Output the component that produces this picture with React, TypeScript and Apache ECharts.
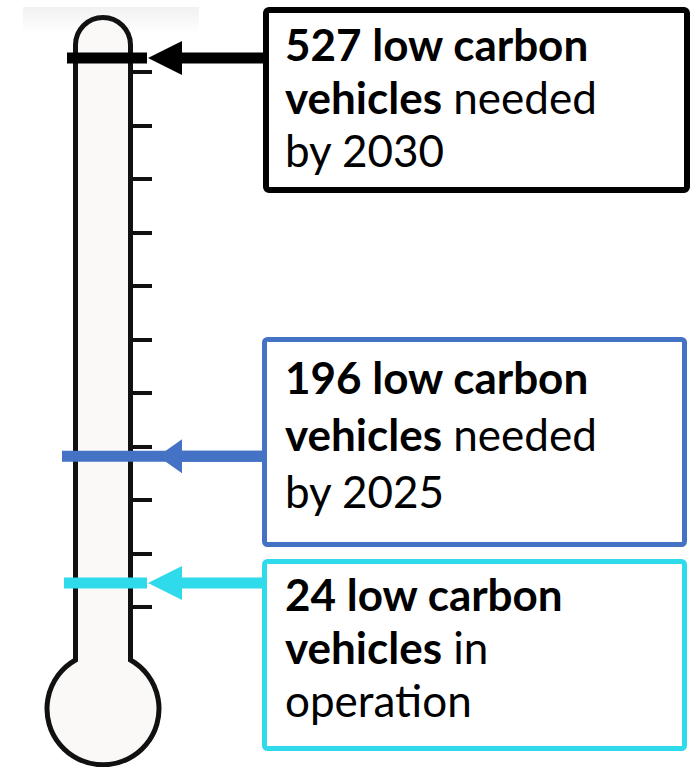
import React, { useEffect, useRef } from "react";
import * as echarts from "echarts";

// ---- data ----
const vehicleCounts = [527, 196, 24];
const captionWord = ["needed", "needed", "in"];
const captionLine = ["by 2030", "by 2025", "operation"];
// reading on the thermometer scale (gradations 0..10)
const thermoReadings = [10.26, 2.82, 0.45];
const scaleTicks = [0, 10, 1]; // min, max, interval

// ---- styles (not data) ----
const markerStyles = [
  { color: "#000000", barStart: 67, barEnd: 147, tip: 148, lw: 6, box: [266, 10, 421, 180], lh: 53, textTop: 17 },
  { color: "#4472C4", barStart: 62, barEnd: 264, tip: 158, lw: 5, box: [264.5, 339.5, 420, 205], lh: 57, textTop: 348 },
  { color: "#2FDAEB", barStart: 64, barEnd: 147, tip: 148, lw: 5, box: [264.5, 561.5, 420, 187], lh: 53, textTop: 567 },
];

const FONT = "Lato, 'Noto Sans', sans-serif";
const FS = 44;

const thermoPath =
  "M 75.5 45 A 27.5 27.5 0 0 1 130.5 45 L 130.5 660 A 56 56 0 1 1 75.5 660 Z";

let registered = false;
function ensureShape() {
  if (registered) return;
  echarts.graphic.registerShape("thermo", echarts.graphic.extendPath(thermoPath, {}));
  registered = true;
}

export default function App() {
  const ref = useRef<HTMLDivElement>(null);
  useEffect(() => {
    document.body.style.margin = "0";
    ensureShape();
    const chart = echarts.init(ref.current!, null, { renderer: "svg" });

    const graphics: any[] = [
      {
        type: "rect",
        shape: { x: 23, y: 7, width: 176, height: 26 },
        style: {
          fill: new echarts.graphic.LinearGradient(0, 0, 0, 1, [
            { offset: 0, color: "#f1f1f1" },
            { offset: 1, color: "#ffffff" },
          ]),
        },
        z: 0,
      },
      {
        type: "thermo",
        x: 0,
        y: 0,
        scaleX: 1,
        scaleY: 1,
        style: { fill: "#FAF9F8", stroke: "#111111", lineWidth: 5 },
        z: 1,
      },
    ];

    markerStyles.forEach((s, i) => {
      graphics.push({
        type: "rect",
        shape: { x: s.box[0], y: s.box[1], width: s.box[2], height: s.box[3], r: 3 },
        style: { fill: "#ffffff", stroke: s.color, lineWidth: s.lw },
        z: 10,
      });
      graphics.push({
        type: "text",
        x: 285,
        y: s.textTop,
        style: {
          text: `{b|${vehicleCounts[i]} low carbon}\n{b|vehicles} {r|${captionWord[i]}}\n{r|${captionLine[i]}}`,
          rich: {
            b: { fontFamily: FONT, fontSize: FS, fontWeight: "bold", fill: "#000", lineHeight: s.lh },
            r: { fontFamily: FONT, fontSize: FS, fontWeight: "normal", fill: "#000", lineHeight: s.lh },
          },
          fill: "#000",
          fontFamily: FONT,
          fontSize: FS,
        },
        z: 11,
      });
    });

    chart.setOption({
      animation: false,
      grid: { left: 133, right: 694 - 200, top: 72, bottom: 767 - 607 },
      xAxis: { type: "value", min: 0, max: 1, show: false },
      yAxis: {
        type: "value",
        position: "left",
        min: scaleTicks[0],
        max: scaleTicks[1],
        interval: scaleTicks[2],
        axisLine: { show: false },
        axisLabel: { show: false },
        splitLine: { show: false },
        axisTick: { show: true, inside: true, length: 19, lineStyle: { color: "#111111", width: 4 } },
        z: 3,
      },
      graphic: graphics,
      series: [
        {
          type: "custom",
          z: 5,
          clip: false,
          data: thermoReadings.map((r, i) => [0.5, r, i]),
          renderItem: (params: any, api: any) => {
            const i = api.value(2);
            const s = markerStyles[i];
            const y = api.coord([0.5, api.value(1)])[1];
            const half = 5.5;
            return {
              type: "group",
              children: [
                {
                  type: "rect",
                  shape: { x: s.barStart, y: y - half, width: s.barEnd - s.barStart, height: half * 2 },
                  style: { fill: s.color },
                },
                {
                  type: "polygon",
                  shape: { points: [[s.tip, y], [182, y - 17], [182, y + 17]] },
                  style: { fill: s.color },
                },
                {
                  type: "rect",
                  shape: { x: 181, y: y - half, width: s.box[0] - 181, height: half * 2 },
                  style: { fill: s.color },
                },
              ],
            };
          },
        },
      ],
    });
    return () => chart.dispose();
  }, []);
  return <div ref={ref} style={{ width: 694, height: 767 }} />;
}
